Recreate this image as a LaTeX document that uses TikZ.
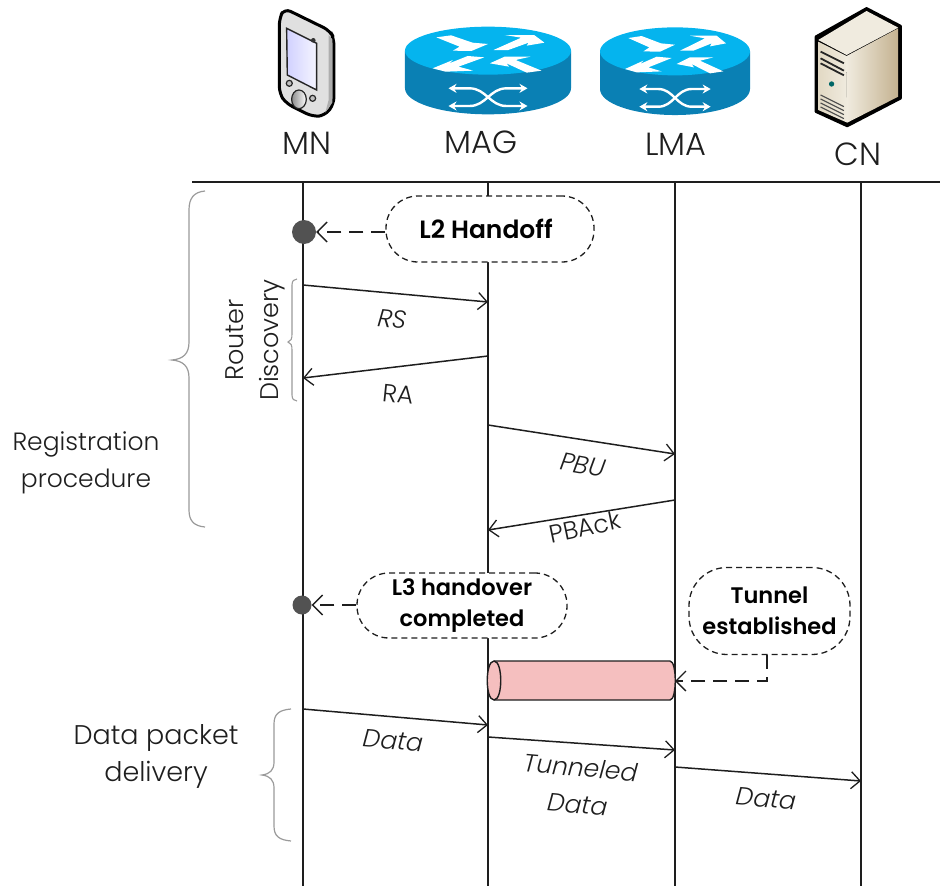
\documentclass[tikz,border=0pt]{standalone}
\usepackage{fontspec}
\setmainfont{Poppins}[UprightFont=* Light,ItalicFont=* Light Italic,BoldFont=* SemiBold]
\usetikzlibrary{arrows.meta,shapes.geometric}
\definecolor{rtop}{HTML}{05B4EE}
\definecolor{rside}{HTML}{0A80B4}
\definecolor{tube}{HTML}{F5BFBF}
\definecolor{bracec}{HTML}{9A9A9A}
\definecolor{ink}{HTML}{1E1E1E}
\definecolor{srvdark}{HTML}{C4B290}
\definecolor{srvlight}{HTML}{F0EBDF}
\definecolor{srvmid}{HTML}{E2D9C4}
\tikzset{
  life/.style={draw=ink,line width=1.6pt},
  msg/.style={draw=ink,line width=1.5pt,-{Straight Barb[length=9pt,width=17pt,line width=1.3pt]}},
  dasharrow/.style={draw=ink,line width=1.5pt,dash pattern=on 14pt off 8pt,-{Straight Barb[length=10pt,width=20pt,line width=1.3pt,line cap=butt]}},
  bubble/.style={draw=ink,fill=white,line width=1.3pt,dash pattern=on 6pt off 4pt,rounded corners=32pt,rectangle,inner sep=0pt,align=center,font=\fontsize{22.5}{31}\selectfont\bfseries},
  devlabel/.style={font=\fontsize{32}{36}\selectfont,text=ink,inner sep=0pt},
  sidelabel/.style={font=\fontsize{25}{37}\selectfont,text=ink,inner sep=0pt,align=center},
  msglabel/.style={font=\fontsize{25}{37}\selectfont\itshape,text=ink,inner sep=0pt,align=center},
  dot/.style={circle,fill=black!68,inner sep=0pt},
}
\newcommand{\routericon}[3]{%
\begin{scope}[shift={(#1,#2)},x=#3*0.3333pt,y=-0.3333pt,shift={(-345,-150)}]
  \fill[rside] (120,152) -- (120,265) arc[start angle=180,end angle=0,x radius=225,y radius=78] -- (570,152) -- cycle;
  \fill[rtop] (345,152) ellipse[x radius=225,y radius=72];
  \fill[white] (205,112)--(245,106)--(303,128)--(345,132)--(300,153)--(250,152)--(268,140)--cycle;
  \fill[white] (360,150)--(400,150)--(455,128)--(450,137)--(498,128)--(470,105)--(390,105)--(435,113)--cycle;
  \fill[white] (335,172)--(290,168)--(240,190)--(250,180)--(195,205)--(230,215)--(305,212)--(265,200)--cycle;
  \fill[white] (350,190)--(390,170)--(460,170)--(420,180)--(490,212)--(450,218)--(395,190)--(402,200)--cycle;
  \draw[white,line width=2.4pt,{Stealth[length=8pt,width=9pt]}-{Stealth[length=8pt,width=9pt]}] (238,265) -- (295,265) .. controls (340,265) and (350,318) .. (395,318) -- (452,318);
  \draw[white,line width=2.4pt,{Stealth[length=8pt,width=9pt]}-{Stealth[length=8pt,width=9pt]}] (238,318) -- (295,318) .. controls (340,318) and (350,265) .. (395,265) -- (452,265);
\end{scope}}
\begin{document}
\begin{tikzpicture}[x=1pt,y=-1pt]
\useasboundingbox (0,0) rectangle (940,886);
% phone
\begin{scope}[x=0.3333pt,y=-0.3333pt,shift={(750,0)}]
  \filldraw[fill=black!12,draw=black,line width=3pt,rounded corners=7pt] (88,55)--(103,25)--(240,92)--(252,115)--(252,312)--(225,347)--(188,350)--(108,310)--(88,280)--cycle;
  \fill[black!32] (236,105)--(247,118)--(247,308)--(226,338)--(236,300)--cycle;
  \filldraw[left color=blue!18!white,right color=blue!4!white,draw=black!85,line width=1.4pt] (110,85)--(200,130)--(200,270)--(112,225)--cycle;
  \fill[black!80] (190,121) circle[radius=7];
  \filldraw[fill=black!25,draw=black!85,line width=1.2pt] (118,250) circle[radius=9];
  \filldraw[fill=black!25,draw=black!85,line width=1.2pt] (188,295) circle[radius=9];
  \filldraw[left color=black!45,right color=white,draw=black!85,line width=1.2pt] (147,298) ellipse[x radius=22,y radius=28];
\end{scope}
\routericon{488}{50}{1.107}
\routericon{675}{50.7}{1}
% server
\begin{scope}[x=0.3333pt,y=-0.3333pt,shift={(1680,0)}]
  \filldraw[fill=black,draw=black,line width=2.5pt,line join=round] (920,25)--(1022,78)--(1022,295)--(862,378)--(768,335)--(768,110)--cycle;
  \fill[left color=srvmid,right color=srvlight] (775,125)--(860,168)--(862,368)--(775,330)--cycle;
  \fill[left color=srvlight,right color=srvdark] (860,168)--(1015,85)--(1015,290)--(862,368)--cycle;
  \fill[srvlight] (775,120)--(920,33)--(1015,83)--(860,165)--cycle;
  \draw[black!85,line width=1.8pt] (782,155)--(852,190) (782,175)--(852,212) (782,190)--(852,226);
  \fill[teal!80!black] (815,252) circle[radius=8];
  \foreach \d in {0,12,24,36} \draw[black!70,line width=1.2pt] (782,285+\d)--(852,320+\d);
\end{scope}
% device labels
\node[devlabel] (mn) at (307,143) {MN};
\node[devlabel] (mag) at (481,142) {MAG};
\node[devlabel] (lma) at (676,144) {LMA};
\node[devlabel] (cn) at (858,154) {CN};
% header and lifelines
\coordinate (hl) at (192,182); \coordinate (hr) at (940,182);
\draw[draw=ink,line width=2pt] (hl) -- (hr);
\coordinate (mnT) at (303,182); \coordinate (mnB) at (303,886);
\coordinate (magT) at (488,182); \coordinate (magB) at (488,886);
\coordinate (lmaT) at (675,182); \coordinate (lmaB) at (675,886);
\coordinate (cnT) at (861,182); \coordinate (cnB) at (861,886);
\draw[life] (mnT)--(mnB);
\draw[life] (magT)--(magB);
\draw[life] (lmaT)--(lmaB);
\draw[life] (cnT)--(cnB);
% tunnel
\filldraw[fill=tube,draw=ink,line width=1.4pt] (494,661) -- (670,661) .. controls (677,661) and (677,700) .. (670,700) -- (494,700) .. controls (485,700) and (485,661) .. (494,661) -- cycle;
\draw[draw=ink,line width=1.4pt] (494,661) .. controls (503,661) and (503,700) .. (494,700);
% bubbles
\node[bubble,font=\fontsize{25}{33}\selectfont\bfseries,minimum width=208pt,minimum height=66pt] (l2) at (490,229) {L2 Handoff\hspace*{8pt}};
\node[bubble,minimum width=210pt,minimum height=65pt] (l3) at (462,605.5) {L3 handover\\completed};
\node[bubble,rounded corners=38pt,minimum width=161pt,minimum height=87pt] (tun) at (769.5,611) {Tunnel\\established};
\node[dot,minimum size=24pt] (d2) at (304,232) {};
\node[dot,minimum size=19pt] (d3) at (302,605) {};
\coordinate (l2w) at (l2.west |- d2);
\coordinate (l3w) at (l3.west |- d3);
\draw[dasharrow] (l2w) -- (d2.east);
\draw[dasharrow] (l3w) -- (d3.east);
\coordinate (tunS) at (767,655); \coordinate (tunC) at (767,681); \coordinate (tunE) at (675,681);
\draw[dasharrow] (tunS) -- (tunC) -- (tunE);
% messages
\coordinate (a1) at (303,285); \coordinate (b1) at (488,302);
\coordinate (a2) at (488,356); \coordinate (b2) at (303,378);
\coordinate (a3) at (488,425); \coordinate (b3) at (675,454);
\coordinate (a4) at (675,500); \coordinate (b4) at (488,530);
\coordinate (a5) at (303,709); \coordinate (b5) at (488,725);
\coordinate (a6) at (488,737); \coordinate (b6) at (675,750);
\coordinate (a7) at (675,767); \coordinate (b7) at (861,781);
\foreach \i in {1,...,7} \draw[msg] (a\i) -- (b\i);
\node[msglabel,rotate=-6] (rs) at (392,319) {RS};
\node[msglabel,rotate=-6,font=\fontsize{25}{37}\selectfont] (ra) at (398,394) {RA};
\node[msglabel,rotate=-10] (pbu) at (583,465) {PBU};
\node[msglabel,rotate=12,font=\fontsize{25}{37}\selectfont] (pback) at (585,527) {PBAck};
\node[msglabel,rotate=-5] (d1) at (393,741) {Data};
\node[msglabel,rotate=-5] (d4) at (579,786) {Tunneled\\Data};
\node[msglabel,rotate=-5] (d5) at (766,799) {Data};
% braces
\draw[draw=bracec,line width=1.2pt] (205,191) .. controls (194,192) and (189,198) .. (189,210) -- (189,342) .. controls (189,354) and (183,359) .. (172,360) .. controls (183,361) and (189,366) .. (189,378) -- (189,510) .. controls (189,521) and (194,526) .. (205,527);
\draw[draw=bracec,line width=1.1pt] (297,279) .. controls (294,279) and (292,281) .. (292,285) -- (292,334) .. controls (292,339) and (291,341) .. (288,342) .. controls (291,343) and (292,345) .. (292,350) -- (292,395) .. controls (292,399) and (294,401) .. (297,401);
\draw[draw=bracec,line width=1.2pt] (291,709) .. controls (279,710) and (274,714) .. (274,724) -- (274,762) .. controls (274,770) and (270,774) .. (262,775) .. controls (270,776) and (274,780) .. (274,788) -- (274,826) .. controls (274,836) and (279,840) .. (291,841);
% side labels
\node[sidelabel] (reg) at (86,463) {Registration\\procedure};
\node[sidelabel,font=\fontsize{27}{37}\selectfont] (dpd) at (156,756) {Data packet\\delivery};
\node[sidelabel,rotate=90,font=\fontsize{25.5}{35}\selectfont] (rt) at (235,340) {Router};
\node[sidelabel,rotate=90,font=\fontsize{25.5}{35}\selectfont] (dc) at (272,340) {Discovery};
\end{tikzpicture}
\end{document}
